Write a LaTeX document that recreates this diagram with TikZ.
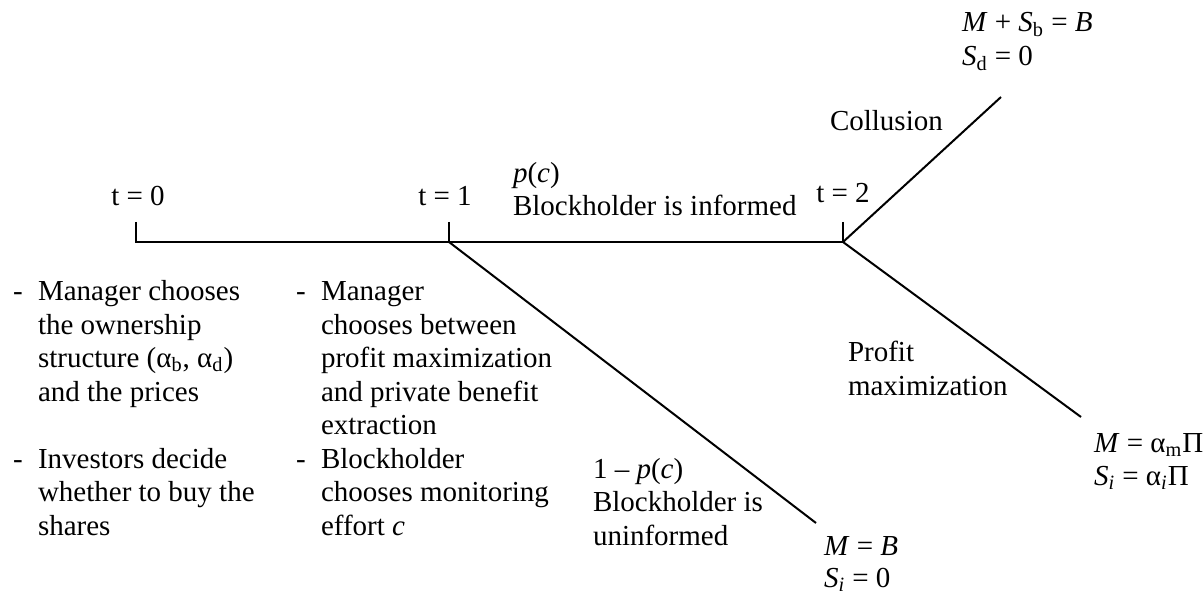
\documentclass[tikz,border=0pt]{standalone}
\usepackage{fontspec}
\setmainfont{Liberation Serif}
\begin{document}
\begin{tikzpicture}[x=0.5pt,y=-0.5pt,line width=1pt,
  txt/.style={anchor=base west,inner sep=0pt,font=\fontsize{14.5}{16.75}\selectfont},
  ctxt/.style={anchor=base,inner sep=0pt,font=\fontsize{14.5}{16.75}\selectfont}]
\useasboundingbox (0,0) rectangle (1204,593);
% timeline
\coordinate (t0) at (136,242);
\coordinate (t1) at (449,242);
\coordinate (t2) at (843,242);
\coordinate (t0top) at (136,222);
\coordinate (t1top) at (449,222);
\coordinate (t2top) at (843,222);
\coordinate (col) at (1001,97);
\coordinate (prof) at (1081,417);
\coordinate (unin) at (816,523);
\draw (t0top) -- (t0) -- (t2);
\draw (t1top) -- (t1);
\draw (t2top) -- (t2);
\draw (t2) -- (col);
\draw (t2) -- (prof);
\draw (t1) -- (unin);
% time labels
\node[ctxt] (lt0) at (138,206) {t = 0};
\node[ctxt] (lt1) at (445,206) {t = 1};
\node[ctxt] (lt2) at (843,203) {t = 2};
% informed branch
\node[txt] (pc) at (512,183) {\textit{p}(\textit{c})};
\node[txt] (inf) at (512,216) {Blockholder is informed};
% collusion
\node[txt] (coll) at (829,131) {Collusion};
\node[txt] (cres1) at (961,32) {\textit{M} + \textit{S}\textsubscript{b} = \textit{B}};
\node[txt] (cres2) at (961,66) {\textit{S}\textsubscript{d} = 0};
% profit maximization
\node[txt] (pm1) at (847,361) {Profit};
\node[txt] (pm2) at (847,395) {maximization};
\node[txt] (pres1) at (1093,452) {\textit{M} = α\textsubscript{m}Π};
\node[txt] (pres2) at (1093,485) {\textit{S}\textsubscript{\textit{i}} = α\textsubscript{\textit{i}}Π};
% uninformed
\node[txt] (un1) at (592,478) {1 – \textit{p}(\textit{c})};
\node[txt] (un2) at (592,511.5) {Blockholder is};
\node[txt] (un3) at (592,545) {uninformed};
\node[txt] (ures1) at (823,555) {\textit{M} = \textit{B}};
\node[txt] (ures2) at (823,587) {\textit{S}\textsubscript{\textit{i}} = 0};
% left list
\node[txt] (ld1) at (12,300.5) {-};
\node[txt] (l1) at (37,300.5) {Manager chooses};
\node[txt] (l2) at (37,334) {the ownership};
\node[txt] (l3) at (37,367.5) {structure (α\textsubscript{b}, α\textsubscript{d})};
\node[txt] (l4) at (37,401) {and the prices};
\node[txt] (ld2) at (12,468) {-};
\node[txt] (l5) at (37,468) {Investors decide};
\node[txt] (l6) at (37,501.5) {whether to buy the};
\node[txt] (l7) at (37,535) {shares};
% middle list
\node[txt] (md1) at (295,300.5) {-};
\node[txt] (m1) at (320,300.5) {Manager};
\node[txt] (m2) at (320,334) {chooses between};
\node[txt] (m3) at (320,367.5) {profit maximization};
\node[txt] (m4) at (320,401) {and private benefit};
\node[txt] (m5) at (320,434.5) {extraction};
\node[txt] (md2) at (295,468) {-};
\node[txt] (m6) at (320,468) {Blockholder};
\node[txt] (m7) at (320,501.5) {chooses monitoring};
\node[txt] (m8) at (320,535) {effort \textit{c}};
\end{tikzpicture}
\end{document}
